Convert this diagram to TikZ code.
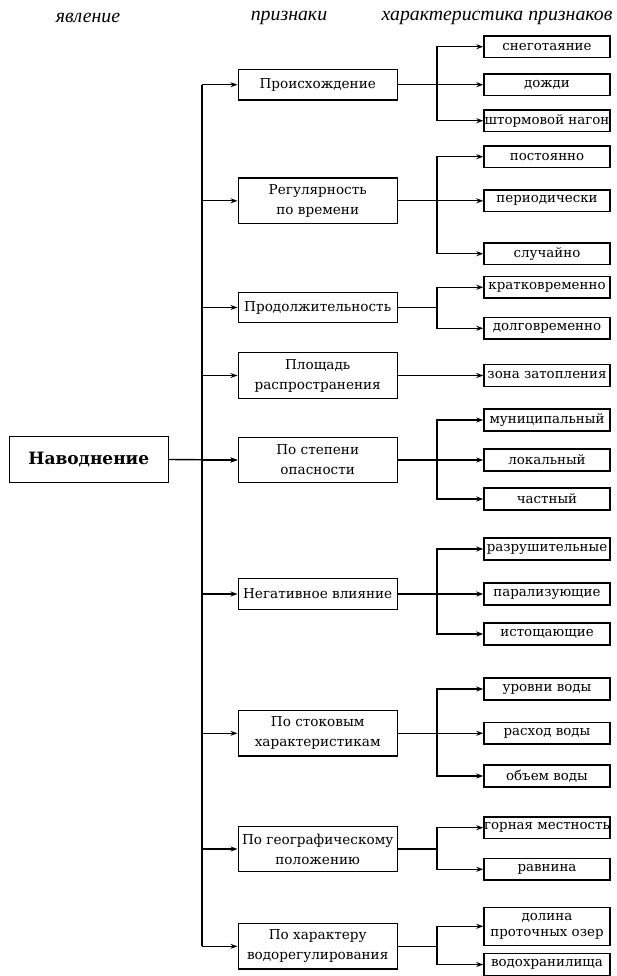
\documentclass[tikz,border=0pt]{standalone}
\usepackage{fontspec}
\setmainfont{DejaVu Serif}
\newfontfamily\hdrfont{Liberation Serif}
\usetikzlibrary{arrows.meta}
\begin{document}
\begin{tikzpicture}[x=1pt,y=-1pt,
  lvone/.style={draw, line width=1.4pt, inner sep=0pt, minimum width=159pt, minimum height=45.6pt, font=\fontsize{17}{20}\bfseries\selectfont},
  lvtwo/.style={draw, line width=1.4pt, inner sep=0pt, anchor=west, minimum width=159pt, minimum height=30.5pt, align=center, font=\fontsize{13.6}{20}\selectfont},
  lvtwotall/.style={lvtwo, minimum height=45.5pt},
  lvthree/.style={draw, line width=1.4pt, inner sep=0pt, anchor=west, minimum width=126pt, minimum height=21.7pt, align=center, font=\fontsize{13.4}{16}\selectfont},
  lvthreetall/.style={lvthree, minimum height=38pt},
  hdr/.style={font=\hdrfont\fontsize{19.8}{21}\itshape\selectfont},
  conn/.style={line width=1.4pt},
  arr/.style={conn, -{Stealth[length=7pt,width=5pt]}},
]
\useasboundingbox (0,0) rectangle (616,976);

\node[hdr] (h1) at (88,18) {явление};
\node[hdr] (h2) at (289,18) {признаки};
\node[hdr] (h3) at (497,18) {характеристика признаков};

\node[lvone] (nav) at (88.8,459.5) {Наводнение};

\node[lvtwo] (p1) at (237.5,84.7) {Происхождение};
\node[lvtwotall] (p2) at (237.5,200.8) {Регулярность\\по времени};
\node[lvtwo] (p3) at (237.5,307.5) {Продолжительность};
\node[lvtwotall] (p4) at (237.5,375.5) {Площадь\\распространения};
\node[lvtwotall] (p5) at (237.5,460) {По степени\\опасности};
\node[lvtwo] (p6) at (237.5,594) {Негативное влияние};
\node[lvtwotall] (p7) at (237.5,733.3) {По стоковым\\характеристикам};
\node[lvtwotall] (p8) at (237.5,849) {По географическому\\положению};
\node[lvtwotall] (p9) at (237.5,946.3) {По характеру\\водорегулирования};

\node[lvthree] (c11) at (483.3,46.7) {снеготаяние};
\node[lvthree] (c12) at (483.3,84.7) {дожди};
\node[lvthree] (c13) at (483.3,120.7) {штормовой нагон};
\node[lvthree] (c21) at (483.3,156.7) {постоянно};
\node[lvthree] (c22) at (483.3,200.8) {периодически};
\node[lvthree] (c23) at (483.3,253.7) {случайно};
\node[lvthree] (c31) at (483.3,287.3) {кратковременно};
\node[lvthree] (c32) at (483.3,328.3) {долговременно};
\node[lvthree] (c41) at (483.3,375.5) {зона затопления};
\node[lvthree] (c51) at (483.3,420) {муниципальный};
\node[lvthree] (c52) at (483.3,460) {локальный};
\node[lvthree] (c53) at (483.3,499) {частный};
\node[lvthree] (c61) at (483.3,549) {разрушительные};
\node[lvthree] (c62) at (483.3,594) {парализующие};
\node[lvthree] (c63) at (483.3,634) {истощающие};
\node[lvthree] (c71) at (483.3,689) {уровни воды};
\node[lvthree] (c72) at (483.3,733.3) {расход воды};
\node[lvthree] (c73) at (483.3,776) {объем воды};
\node[lvthree] (c81) at (483.3,827.7) {горная местность};
\node[lvthree] (c82) at (483.3,869.3) {равнина};
\node[lvthreetall] (c91) at (483.3,926.3) {долина\\проточных озер};
\node[lvthree] (c92) at (483.3,964.5) {водохранилища};

\coordinate (tx) at (202,0);
\coordinate (bx) at (437,0);

\draw[arr] (nav.east) -- (p5.west);
\draw[conn] (p1.west -| tx) -- (p9.west -| tx);
\foreach \p in {p1,p2,p3,p4,p5,p6,p7,p8,p9}
  \draw[arr] (\p.west -| tx) -- (\p.west);

% three-child groups
\foreach \p/\a/\b/\c in {p1/c11/c12/c13, p2/c21/c22/c23, p5/c51/c52/c53, p6/c61/c62/c63, p7/c71/c72/c73}{
  \draw[arr] (\p.east) -- (\b.west);
  \draw[arr] (\p.east -| bx) |- (\a.west);
  \draw[arr] (\p.east -| bx) |- (\c.west);
}
% two-child groups
\foreach \p/\a/\b in {p3/c31/c32, p8/c81/c82, p9/c91/c92}{
  \draw[conn] (\p.east) -- (\p.east -| bx);
  \draw[arr] (\p.east -| bx) |- (\a.west);
  \draw[arr] (\p.east -| bx) |- (\b.west);
}
\draw[arr] (p4.east) -- (c41.west);
\end{tikzpicture}
\end{document}
